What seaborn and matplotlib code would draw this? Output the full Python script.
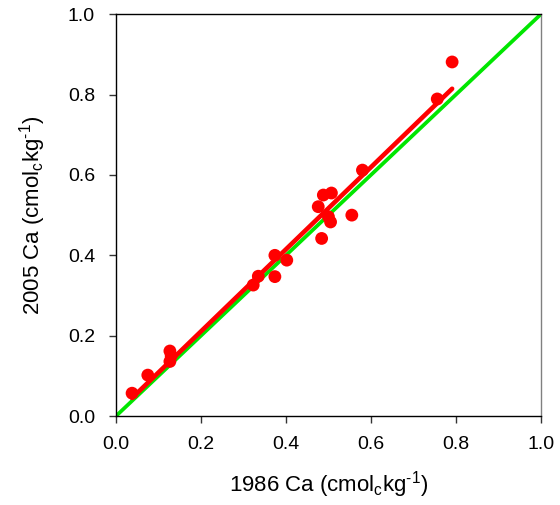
import numpy as np
import pandas as pd
import matplotlib
matplotlib.use("Agg")
import matplotlib.pyplot as plt
import seaborn as sns

# Ca values (cmol_c/kg)
ca_1986 = [0.038, 0.075, 0.127, 0.130, 0.127, 0.323, 0.335, 0.374, 0.374, 0.402,
           0.484, 0.476, 0.488, 0.507, 0.500, 0.505, 0.555, 0.580, 0.756, 0.791]
ca_2005 = [0.057, 0.102, 0.162, 0.150, 0.136, 0.326, 0.348, 0.347, 0.400, 0.388,
           0.442, 0.521, 0.550, 0.555, 0.496, 0.483, 0.500, 0.612, 0.789, 0.881]
one_to_one = [0.0, 1.0]
ticks = [0.0, 0.2, 0.4, 0.6, 0.8, 1.0]

df = pd.DataFrame({"x": ca_1986, "y": ca_2005})

sns.set_style("ticks")
plt.rcParams["font.family"] = ["Liberation Sans", "DejaVu Sans"]
plt.rcParams["mathtext.fontset"] = "custom"
plt.rcParams["mathtext.rm"] = "Liberation Sans"
plt.rcParams["mathtext.it"] = "Liberation Sans"
plt.rcParams["text.color"] = "black"
plt.rcParams["axes.labelcolor"] = "black"
plt.rcParams["xtick.color"] = "black"
plt.rcParams["ytick.color"] = "black"

fig = plt.figure(figsize=(5.6, 5.05), dpi=100)
ax = fig.add_axes([0.207, 0.176, 0.759, 0.796])

# 1:1 line
ax.plot(one_to_one, one_to_one, color="#00e600", lw=2.7, zorder=2, solid_capstyle="round")
# data + linear fit
sns.regplot(data=df, x="x", y="y", ax=ax, ci=None, truncate=True,
            scatter_kws=dict(s=85, color="#ff0000", alpha=1, edgecolor="none", zorder=3),
            line_kws=dict(color="#ff0000", lw=3.3, zorder=4))

ax.set_xlim(0, 1)
ax.set_ylim(0, 1)
ax.set_xticks(ticks)
ax.set_yticks(ticks)
ax.set_xticklabels([f"{t:.1f}" for t in ticks], fontsize=14)
ax.set_yticklabels([f"{t:.1f}" for t in ticks], fontsize=14)
ax.tick_params(direction="out", length=5, width=1, color="#333333")
ax.tick_params(axis="x", pad=9)
ax.tick_params(axis="y", pad=10)
lab = "Ca (cmol$_\\mathregular{c}$kg$^{\\text{-1}}$)"
ax.set_xlabel("1986 " + lab, fontsize=16, labelpad=12)
ax.set_ylabel("2005 " + lab, fontsize=16, labelpad=14)

for side in ["left", "bottom", "top"]:
    ax.spines[side].set_color("black")
    ax.spines[side].set_linewidth(1.0)
ax.spines["right"].set_color("#808080")
ax.spines["right"].set_linewidth(1.0)
for s in ax.spines.values():
    s.set_visible(True)

fig.savefig("out.png", dpi=100)
